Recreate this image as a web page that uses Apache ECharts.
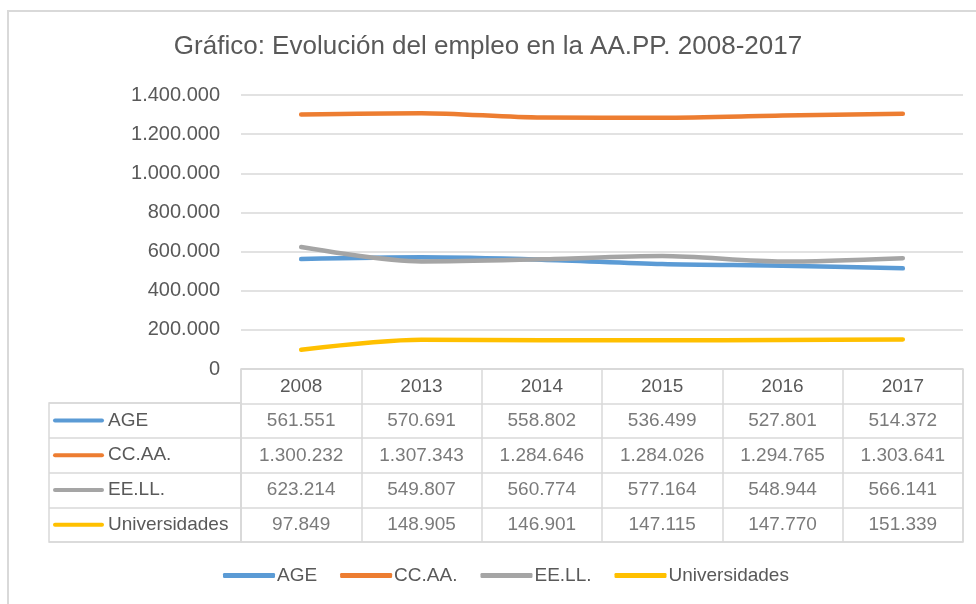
<!DOCTYPE html>
<html><head><meta charset="utf-8">
<script src="https://cdn.jsdelivr.net/npm/echarts@6/dist/echarts.min.js"></script>
<style>html,body{margin:0;padding:0;background:#fff}#c{width:976px;height:604px}</style>
</head><body><div id="c"></div>
<script>
const years = ['2008','2013','2014','2015','2016','2017'];
const seriesNames = ['AGE','CC.AA.','EE.LL.','Universidades'];
const age  = [561551,570691,558802,536499,527801,514372];
const ccaa = [1300232,1307343,1284646,1284026,1294765,1303641];
const eell = [623214,549807,560774,577164,548944,566141];
const univ = [97849,148905,146901,147115,147770,151339];
const yMin = 0, yMax = 1400000, yStep = 200000;

const values = [age, ccaa, eell, univ];
const colors = ['#5b9bd5','#ed7d31','#a5a5a5','#ffc000'];
const FONT = 'Liberation Sans, Arial, sans-serif';
const TXT = '#595959';
const GRID = '#d9d9d9';
function fmt(v){ return String(v).replace(/\B(?=(\d{3})+(?!\d))/g,'.'); }

const lineSeries = seriesNames.map((n,i)=>({
  name:n, type:'line', xAxisIndex:0, yAxisIndex:0, data:values[i],
  smooth:0.3, symbol:'none', lineStyle:{width:4.5,color:colors[i],cap:'round',join:'round'},
  itemStyle:{color:colors[i]}
}));
const cellData = [];
values.forEach((arr,r)=>arr.forEach((v,c)=>cellData.push({value:[c, r+1, v]})));
const rich = {t:{fontSize:19,color:TXT,fontFamily:FONT,verticalAlign:'middle',padding:[0,0,0,4]}};
colors.forEach((c,i)=>{ rich['l'+i] = {width:51,height:4,backgroundColor:c,borderRadius:2,verticalAlign:'middle'}; });

const chart = echarts.init(document.getElementById('c'));
chart.setOption({
  backgroundColor:'#fff',
  animation:false,
  title:{text:'Gráfico: Evolución del empleo en la AA.PP. 2008-2017',left:'center',top:29,
    textStyle:{fontFamily:FONT,fontSize:26,fontWeight:'normal',color:TXT}},
  legend:{data:seriesNames,bottom:14,left:218,icon:'roundRect',itemWidth:52,itemHeight:5,itemGap:23,
    textStyle:{fontFamily:FONT,fontSize:19,color:TXT,padding:[0,0,0,-3]}},
  graphic:[{type:'rect',shape:{x:8,y:11,width:1200,height:1000},style:{fill:'none',stroke:GRID,lineWidth:2},silent:true}],
  grid:[
    {left:241,right:13,top:95,height:274},
    {left:241,right:13,top:369,height:173,show:true,borderColor:GRID,borderWidth:1.5},
    {left:49,width:192,top:403,height:139,show:true,borderColor:GRID,borderWidth:1.5}
  ],
  xAxis:[
    {gridIndex:0,type:'category',data:years,boundaryGap:true,axisLine:{show:true,lineStyle:{color:GRID}},axisTick:{show:false},
      axisLabel:{margin:8,fontSize:19,color:TXT,fontFamily:FONT}},
    {gridIndex:1,type:'category',data:years,boundaryGap:true,axisLine:{show:false},axisTick:{show:false},axisLabel:{show:false},
      splitLine:{show:true,interval:0,lineStyle:{color:GRID,width:1.5}}},
    {gridIndex:2,type:'value',min:0,max:1,show:false}
  ],
  yAxis:[
    {gridIndex:0,type:'value',min:yMin,max:yMax,interval:yStep,axisLine:{show:false},axisTick:{show:false},
      axisLabel:{margin:21,fontSize:20,color:TXT,fontFamily:FONT,formatter:v=>fmt(v)},
      splitLine:{lineStyle:{color:GRID,width:1.5}}},
    {gridIndex:1,type:'category',data:[''].concat(seriesNames),inverse:true,boundaryGap:true,axisLine:{show:false},axisTick:{show:false},axisLabel:{show:false},
      splitLine:{show:true,interval:0,lineStyle:{color:GRID,width:1.5}}},
    {gridIndex:2,type:'category',data:seriesNames,inverse:true,boundaryGap:true,axisLine:{show:false},axisTick:{show:false},
      splitLine:{show:true,interval:0,lineStyle:{color:GRID,width:1.5}},
      axisLabel:{inside:true,margin:4,formatter:(v,i)=>'{l'+i+'|}{t|'+v+'}',rich:rich}}
  ],
  series: lineSeries.concat([{
    name:'tabla',type:'scatter',xAxisIndex:1,yAxisIndex:1,data:cellData,symbolSize:1,
    itemStyle:{color:'rgba(0,0,0,0)'},silent:true,
    label:{show:true,position:'inside',formatter:p=>fmt(p.value[2]),fontSize:19,color:TXT,fontFamily:FONT}
  }])
});
</script></body></html>
